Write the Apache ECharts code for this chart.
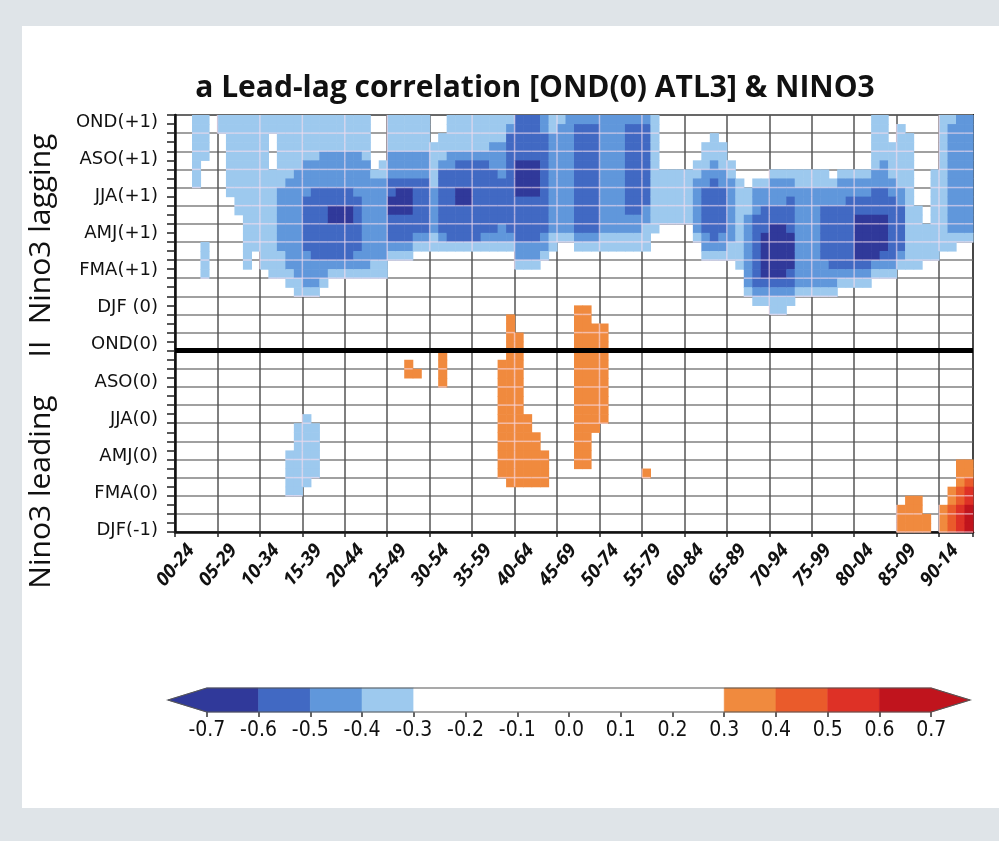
<!DOCTYPE html>
<html>
<head>
<meta charset="utf-8">
<script src="https://cdn.jsdelivr.net/npm/echarts@6/dist/echarts.min.js"></script>
<style>
html,body{margin:0;padding:0;background:#dfe4e8;}
#card{position:absolute;left:22px;top:26px;width:977px;height:782px;background:#fff;}
#chart{position:absolute;left:0;top:0;width:999px;height:841px;}
</style>
</head>
<body>
<div id="card"></div>
<div id="chart"></div>
<script>
// 25-year running windows (x axis)
var windowLabels = ['00-24','05-29','10-34','15-39','20-44','25-49','30-54','35-59','40-64','45-69',
  '50-74','55-79','60-84','65-89','70-94','75-99','80-04','85-09','90-14'];
// lag labels, every 2 months from DJF(-1) up to OND(+1)
var seasonLabels = ['DJF(-1)','FMA(0)','AMJ(0)','JJA(0)','ASO(0)','OND(0)','DJF (0)','FMA(+1)','AMJ(+1)','JJA(+1)','ASO(+1)','OND(+1)'];
var colorbarTicks = [-0.7,-0.6,-0.5,-0.4,-0.3,-0.2,-0.1,0,0.1,0.2,0.3,0.4,0.5,0.6,0.7];
var levelBreaks = [-0.6,-0.5,-0.4,-0.3,0.3,0.4,0.5,0.6];
var levelColors = ['#30399a','#4169c3','#6097db','#9dc9ee','#ffffff','#f08a3e','#ea5b2b','#de3126','#c0141d'];
// correlation class of each cell
var codeValue = {a:-0.35, b:-0.45, c:-0.55, d:-0.65, A:0.35, B:0.45, C:0.55, D:0.65};

// one string per window (1 yr step), top row first, half-month rows
var fieldCols = [
  "", "", "aaaaa aaa", "aaaaa ..... ....a aaa", "", "aa", "aaaaa aaaa", "aaaaa aaaaa a",
  "aaaaa aaaaa aaaaa aa", "aaaaa aaaaa aaaaa", "aaaaa aaaaa aaaaa aa", "aa... .aaaa aaaaa aaa",
  "aaaaa aaabb bbbbb aaa",
  "aaaaa aabbb bbbbb bbaa. ..... ..... ..... ..aaa aa",
  "aaaaa abbbb bbbbb bbbaa ..... ..... ....a aaaaa aa",
  "aaaaa bbbbc ccccc bbbba ..... ..... ...aa aaaaa a",
  "aaaaa bbbcc ccccc cbbba ..... ..... ....a aaaaa",
  "aaaab bbbcc ccccc cbba",
  "aaaab bbbcc ddccc cba",
  "aaaab bbbcc ddccc cba",
  "aaaab bbbcc ddccc cba",
  "aaaab bbbbc ccccc bba",
  "aaaaa bbbbb bbbbb bba",
  "..... .abbb bbbbb baa",
  "..... aabbb bbbbb baa",
  "aaaab bbccd dcccb a",
  "aaaab bbcdd dcccb a",
  "aaaab bbcdd dcccb a.... ..... ..AA",
  "aaaab bbccc cccba ..... ..... ...A",
  "aaaab bbccc cccba",
  "...aa aaabb bbbaa",
  "..aaa bcccc cccba ..... ..... .AAAA",
  "aaaab bcccc cccca",
  "aaaab cccdd cccca",
  "aaaab cccdd cccca",
  "aaaab ccccc cccca",
  "aaaab ccccc cccba",
  "aaabb bcccc cccba",
  "aaabb bbccc ccbba ..... ..... ..AAA AAAAA AAAAA",
  "abccc ccccc cccba ..... ..AAA AAAAA AAAAA AAAAA A",
  "ccccc ddddc ccccb ba... ....A AAAAA AAAAA AAAAA A",
  "ccccc ddddc ccccb ba... ..... ..... ...AA AAAAA A",
  "ccccc ddddc ccccb ba... ..... ..... ..... AAAAA A",
  "bbccc ccccc cccbb a.... ..... ..... ..... ..AAA A",
  "aabbb bbbbb bbbaa",
  "abbbb bbbbb bbba",
  "bbbbb bbbbb bbba",
  "bcccc ccccc cccba ..... .AAAA AAAAA AAAAA AAAA",
  "bcccc ccccc cccba ..... .AAAA AAAAA AAAAA AAAA",
  "bcccc ccccc cccba ..... ...AA AAAAA AAAAA",
  "bbbbb bbbbb bbbaa ..... ...AA AAAAA AAAA",
  "bbbbb bbbbb bbbaa",
  "bbbbb bbbbb bbbaa",
  "bcccc ccccc cbbaa",
  "bcccc ccccc cbbaa",
  "bcccc ccccc bbaaa ..... ..... ..... ..... ....A",
  "aaaaa aaaaa aaa",
  "..... .aaaa aa",
  "..... .aaaa aa",
  "..... .aaaa aa",
  "..... .aaaa aa",
  "..... aabbb bbba",
  "...aa abbcc cccbb a",
  "..aaa bbccc ccccb a",
  "...aa abbcc cccbb a",
  "..... aabbb bbbba a",
  "..... ..aaa aaaaa aa",
  "..... ...aa abbbb bbbba",
  "..... ..abb bcccc ccccb a",
  "..... ..abb cccdd dddcb a",
  "..... .abbb ccddd dddcb aa",
  "..... .abbb ccddd dddcb aa",
  "..... .abbc cccdd ddccb a",
  "..... .aabb bbbbb bbbba",
  "..... .aabb bbbbb bbbba",
  "..... .aabb bbbbb bbbba",
  "..... .aabb ccccc cbbba",
  "..... ..abb ccccc ccbba",
  "..... .abbb ccccc ccba",
  "..... .abbc ccccc ccba",
  "..... .abbc cdddd dcba",
  "..... .abbc cdddd dcba",
  "aaaaa abbcc cdddd dba",
  "aaaaa bbbcc cdddd cba",
  "...aa aabbc ccccc cba",
  ".aaaa aaabb ccccc ba... ..... ..... ..... ..... ...AA A",
  "..aaa aaaaa aaaaa aa... ..... ..... ..... ..... ..AAA A",
  "..... ..... aaaaa aa... ..... ..... ..... ..... ..AAA A",
  "..... ..... ..aaa a.... ..... ..... ..... ..... ....A A",
  "..... .aaaa aaaaa a",
  "aaaaa aaaaa aaaaa ..... ..... ..... ..... ..... ...AA A",
  "abbbb bbbbb bbbaa ..... ..... ..... ..... ..... .AABB B",
  "bbbbb bbbbb bbba. ..... ..... ..... ..... ...AA ABBCC C",
  "bbbbb bbbbb bbba. ..... ..... ..... ..... ...AA BCCDD D"
];

var yTopMonth = 23;   // NDJ(+1) at the top edge, DJF(-1) = 0
var labelShift = 1.9; // x labels sit a little right of their tick
var cells = [];
fieldCols.forEach(function (s, i) {
  s = s.replace(/ /g, '');
  for (var r = 0; r < s.length; r++) {
    var v = codeValue[s.charAt(r)];
    if (v !== undefined) cells.push([i, r, v]);
  }
});

var pieces = [];
for (var k = 0; k <= levelBreaks.length; k++) {
  var p = {color: levelColors[k]};
  if (k > 0) p.gte = levelBreaks[k - 1];
  if (k < levelBreaks.length) p.lt = levelBreaks[k];
  pieces.push(p);
}

var cbData = [];
for (var k = 0; k <= levelBreaks.length; k++) {
  cbData.push([k === 0 ? -0.775 : levelBreaks[k - 1], k === levelBreaks.length ? 0.775 : levelBreaks[k], k]);
}

function renderCell(params, api) {
  var c = api.value(0), r = api.value(1);
  var yTop = yTopMonth - r * 0.5;
  var p0 = api.coord([c, yTop]);
  var p1 = api.coord([c + 1, yTop - 0.5]);
  var kids = [{
    type: 'rect', z2: 0,
    shape: {x: p0[0], y: p0[1], width: p1[0] - p0[0] + 0.6, height: p1[1] - p0[1] + 0.6},
    style: {fill: api.visual('color')}
  }];
  var light = {stroke: 'rgba(248,222,238,0.6)', lineWidth: 1.5};
  if (c % 5 === 0) kids.push({type: 'line', z2: 5, shape: {x1: p0[0], y1: p0[1], x2: p0[0], y2: p1[1]}, style: light});
  if (r % 2 === 1) kids.push({type: 'line', z2: 5, shape: {x1: p0[0], y1: p1[1], x2: p1[0], y2: p1[1]}, style: light});
  return {type: 'group', children: kids};
}

function renderBar(params, api) {
  var lo = api.value(0), hi = api.value(1), k = api.value(2);
  var pts;
  if (k === 0) pts = [[lo, 0.5], [-0.7, 1], [hi, 1], [hi, 0], [-0.7, 0]];
  else if (k === levelBreaks.length) pts = [[lo, 1], [0.7, 1], [hi, 0.5], [0.7, 0], [lo, 0]];
  else pts = [[lo, 1], [hi, 1], [hi, 0], [lo, 0]];
  return {
    type: 'polygon',
    shape: {points: pts.map(function (q) { return api.coord(q); })},
    style: {fill: levelColors[k], stroke: levelColors[k], lineWidth: 0.6}
  };
}

function renderBarOutline(params, api) {
  var pts = [[-0.775, 0.5], [-0.7, 1], [0.7, 1], [0.775, 0.5], [0.7, 0], [-0.7, 0]];
  return {
    type: 'polygon',
    shape: {points: pts.map(function (q) { return api.coord(q); })},
    style: {fill: 'none', stroke: '#555', lineWidth: 1.2}
  };
}

var chart = echarts.init(document.getElementById('chart'));
chart.setOption({
  animation: false,
  backgroundColor: 'transparent',
  graphic: [
    {type: 'text', x: 535, y: 88, style: {text: 'a Lead-lag correlation [OND(0) ATL3] & NINO3',
      font: 'bold 30px "Open Sans"', fill: '#111', align: 'center', verticalAlign: 'middle'}},
    {type: 'text', x: 41, y: 229, rotation: Math.PI / 2, style: {text: 'Nino3 lagging',
      font: '30px "Open Sans"', fill: '#111', align: 'center', verticalAlign: 'middle'}},
    {type: 'text', x: 41, y: 349, rotation: Math.PI / 2, style: {text: 'II',
      font: '30px "Open Sans"', fill: '#111', align: 'center', verticalAlign: 'middle'}},
    {type: 'text', x: 41, y: 492, rotation: Math.PI / 2, style: {text: 'Nino3 leading',
      font: '30px "Open Sans"', fill: '#111', align: 'center', verticalAlign: 'middle'}}
  ],
  grid: [
    {left: 175, top: 115, width: 798, height: 417, show: true, backgroundColor: '#fff',
      borderColor: '#222', borderWidth: 2},
    {left: 168, top: 688, width: 802, height: 24}
  ],
  xAxis: [
    {type: 'value', gridIndex: 0, min: 0, max: 94, interval: 5,
      axisLine: {lineStyle: {color: '#111', width: 2.5}},
      axisTick: {length: 5, lineStyle: {color: '#222', width: 1.5}},
      splitLine: {show: true, lineStyle: {color: '#555', width: 1.5}},
      axisLabel: {
        customValues: windowLabels.map(function (_, i) { return i * 5 + labelShift; }),
        formatter: function (v) { return windowLabels[Math.round((v - labelShift) / 5)]; },
        rotate: 50, margin: 15, fontSize: 19, fontWeight: 'bold', fontStyle: 'italic',
        fontFamily: 'Open Sans', color: '#111'
      }},
    {type: 'value', gridIndex: 1, min: -0.775, max: 0.775,
      axisLine: {show: false}, splitLine: {show: false},
      axisTick: {customValues: colorbarTicks, length: 5, lineStyle: {color: '#333', width: 1.5}},
      axisLabel: {customValues: colorbarTicks, margin: 8, fontSize: 21, color: '#111',
        fontFamily: 'DejaVu Sans Condensed',
        formatter: function (v) { return (Math.abs(v) < 1e-9 ? 0 : v).toFixed(1); }}}
  ],
  yAxis: [
    {type: 'value', gridIndex: 0, min: 0, max: 23, interval: 1,
      axisLine: {show: true, lineStyle: {color: '#111', width: 2.5}},
      axisTick: {show: true, length: 8, lineStyle: {color: '#222', width: 1.5}},
      minorTick: {show: true, splitNumber: 2, length: 8, lineStyle: {color: '#222', width: 1.5}},
      splitLine: {show: true, lineStyle: {color: '#808080', width: 1.5}},
      axisLabel: {show: false}},
    {type: 'value', gridIndex: 0, position: 'left', min: -0.1, max: 22.4,
      axisLine: {show: false}, axisTick: {show: false}, splitLine: {show: false},
      axisLabel: {
        customValues: seasonLabels.map(function (_, i) { return i * 2; }),
        formatter: function (v) { return seasonLabels[Math.round(v / 2)]; },
        margin: 17, fontSize: 18, color: '#111', fontFamily: 'DejaVu Sans'
      }},
    {type: 'value', gridIndex: 1, min: 0, max: 1, show: false}
  ],
  visualMap: {type: 'piecewise', show: false, dimension: 2, seriesIndex: 0, pieces: pieces},
  series: [
    {type: 'custom', xAxisIndex: 0, yAxisIndex: 0, data: cells, renderItem: renderCell,
      encode: {x: 0, y: 1},
      markLine: {silent: true, symbol: 'none', label: {show: false},
        lineStyle: {color: '#000', width: 5, type: 'solid'}, data: [{yAxis: 10}]}},
    {type: 'custom', xAxisIndex: 1, yAxisIndex: 2, data: cbData, renderItem: renderBar,
      encode: {x: [0, 1], y: 2}, clip: false},
    {type: 'custom', xAxisIndex: 1, yAxisIndex: 2, data: [[0, 0.5]], renderItem: renderBarOutline,
      clip: false, z: 3}
  ]
});
</script>
</body>
</html>
